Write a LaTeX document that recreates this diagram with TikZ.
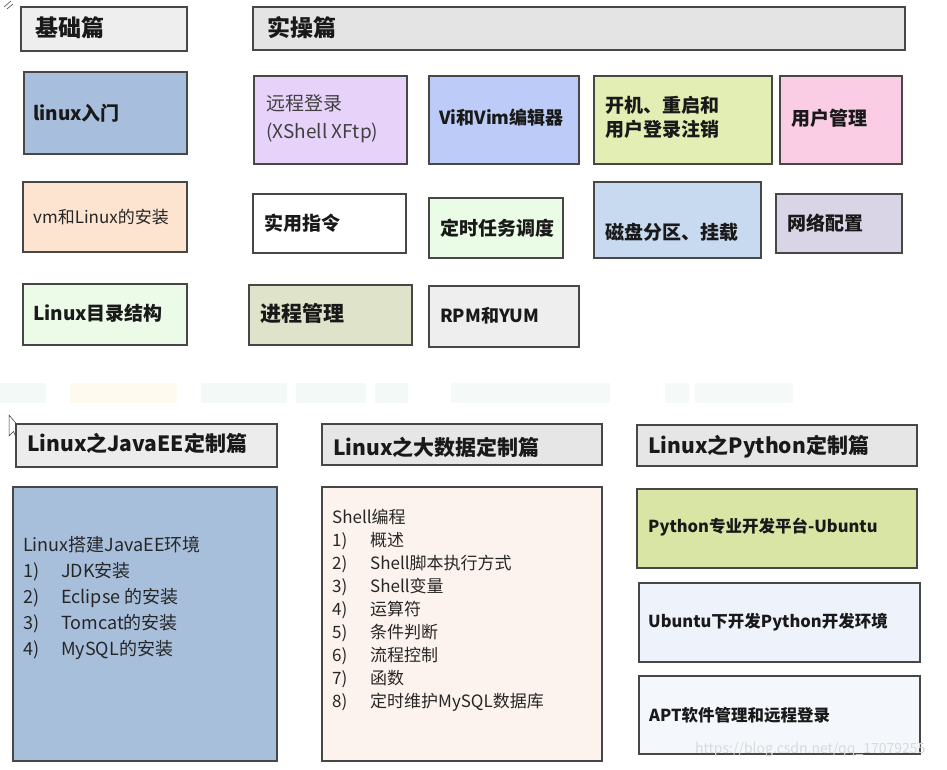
\documentclass[tikz,border=0pt]{standalone}
\usepackage{fontspec}
\setmainfont{Noto Sans CJK SC}
\begin{document}
\begin{tikzpicture}[x=1pt,y=-1pt,
  box/.style={draw=black!72, line width=1.1pt, rectangle, inner sep=0pt},
  txt/.style={anchor=west, inner sep=0pt, align=left, text=black!90, font=\bfseries\fontsize{19}{24}\selectfont},
  reg/.style={anchor=west, inner sep=0pt, align=left, text=black!80, font=\fontsize{17}{23}\selectfont},
  hdr/.style={anchor=west, inner sep=0pt, text=black!90, font=\bfseries\fontsize{21}{24}\selectfont},
  band/.style={draw=none, fill opacity=0.3}]
\useasboundingbox (0,0) rectangle (947,770);
\fill[white] (0,0) rectangle (947,770);
% faint background band
\fill[band, fill={rgb,255:red,214;green,236;blue,230}] (0,383) rectangle (46,403);
\fill[band, fill={rgb,255:red,252;green,240;blue,208}] (70,383) rectangle (177,403);
\fill[band, fill={rgb,255:red,214;green,236;blue,230}] (201,383) rectangle (287,403);
\fill[band, fill={rgb,255:red,214;green,236;blue,230}] (296,383) rectangle (366,403);
\fill[band, fill={rgb,255:red,214;green,236;blue,230}] (375,383) rectangle (408,403);
\fill[band, fill={rgb,255:red,222;green,238;blue,232}] (451,383) rectangle (610,403);
\fill[band, fill={rgb,255:red,222;green,238;blue,232}] (665,383) rectangle (689,403);
\fill[band, fill={rgb,255:red,222;green,238;blue,232}] (695,383) rectangle (793,403);
% cursors
\draw[black!80, line width=0.5pt, fill=white] (9,415) -- (9,436) -- (13.5,431.5) -- (16.5,438.5) -- (19,437.5) -- (16,430.5) -- (22,430.5) -- cycle;
\draw[black!70, line width=0.6pt] (4,7) -- (11,1) (7,9) -- (13,4);
% top section headers
\node[box, fill={rgb,255:red,238;green,238;blue,238}, minimum width=166pt, minimum height=44pt] (jichu) at (104,29) {};
\node[hdr, font=\bfseries\fontsize{23}{24}\selectfont] (jichut) at (35,28) {基础篇};
\node[box, fill={rgb,255:red,228;green,228;blue,228}, minimum width=652pt, minimum height=43pt] (shicao) at (579,28.5) {};
\node[hdr, font=\bfseries\fontsize{23}{24}\selectfont] (shicaot) at (267,28) {实操篇};
% basic column
\node[box, fill={rgb,255:red,168;green,190;blue,221}, minimum width=163pt, minimum height=82pt] (rumen) at (105.5,113) {};
\node[txt] (rument) at (33,113) {linux入门};
\node[box, fill={rgb,255:red,252;green,228;blue,208}, minimum width=164pt, minimum height=70pt] (vm) at (105,217) {};
\node[reg, text=black!85] (vmt) at (33,217) {vm和Linux的安装};
\node[box, fill={rgb,255:red,235;green,251;blue,232}, minimum width=164pt, minimum height=61pt] (mulu) at (105,314.5) {};
\node[txt] (mulut) at (33,313) {Linux目录结构};
% practice section
\node[box, fill={rgb,255:red,231;green,211;blue,250}, minimum width=153pt, minimum height=88pt] (yuancheng) at (330.5,120) {};
\node[reg, text=black!75, font=\fontsize{19}{28}\selectfont] (yuanchengt) at (266,119) {远程登录\\(XShell XFtp)};
\node[box, fill=white, minimum width=153pt, minimum height=59pt] (shiyong) at (329.5,223.5) {};
\node[txt] (shiyongt) at (264,223) {实用指令};
\node[box, fill={rgb,255:red,222;green,227;blue,202}, minimum width=163pt, minimum height=60pt] (jincheng) at (330.5,315) {};
\node[txt, font=\bfseries\fontsize{21}{24}\selectfont] (jinchengt) at (260,313) {进程管理};
\node[box, fill={rgb,255:red,188;green,203;blue,247}, minimum width=150pt, minimum height=88pt] (vi) at (504,120) {};
\node[txt, font=\bfseries\fontsize{18}{24}\selectfont] (vit) at (439,118) {Vi和Vim编辑器};
\node[box, fill={rgb,255:red,227;green,238;blue,181}, minimum width=178pt, minimum height=88pt] (kaiji) at (683,120) {};
\node[txt] (kaijit) at (605,117) {开机、重启和\\用户登录注销};
\node[box, fill={rgb,255:red,251;green,205;blue,229}, minimum width=122pt, minimum height=88pt] (yonghu) at (841,120) {};
\node[txt] (yonghut) at (791,118) {用户管理};
\node[box, fill={rgb,255:red,235;green,252;blue,230}, minimum width=134pt, minimum height=60pt] (dingshi) at (496,228) {};
\node[txt] (dingshit) at (440,228) {定时任务调度};
\node[box, fill={rgb,255:red,200;green,218;blue,240}, minimum width=167pt, minimum height=76pt] (cipan) at (677.5,220) {};
\node[txt] (cipant) at (605,232) {磁盘分区、挂载};
\node[box, fill={rgb,255:red,218;green,213;blue,230}, minimum width=126pt, minimum height=59pt] (wangluo) at (839,223.5) {};
\node[txt] (wangluot) at (787,223) {网络配置};
\node[box, fill={rgb,255:red,238;green,238;blue,238}, minimum width=150pt, minimum height=61pt] (rpm) at (504,316.5) {};
\node[txt, font=\bfseries\fontsize{18}{24}\selectfont] (rpmt) at (440,316) {RPM和YUM};
% bottom section
\node[box, fill={rgb,255:red,236;green,236;blue,236}, minimum width=261pt, minimum height=43pt] (javah) at (146.5,445.5) {};
\node[hdr] (javaht) at (27,443) {Linux之JavaEE定制篇};
\node[box, fill={rgb,255:red,168;green,191;blue,220}, minimum width=264pt, minimum height=274pt] (javab) at (145,624) {};
\node[reg, text=black!85, font=\fontsize{18}{26}\selectfont] (javabt) at (23,598) {Linux搭建JavaEE环境\\\makebox[38pt][l]{1)}JDK安装\\\makebox[38pt][l]{2)}Eclipse 的安装\\\makebox[38pt][l]{3)}Tomcat的安装\\\makebox[38pt][l]{4)}MySQL的安装};
\node[box, fill={rgb,255:red,230;green,230;blue,230}, minimum width=280pt, minimum height=41pt] (bigh) at (462,444.5) {};
\node[hdr] (bight) at (333,447) {Linux之大数据定制篇};
\node[box, fill={rgb,255:red,253;green,243;blue,238}, minimum width=280pt, minimum height=274pt] (bigb) at (462,624) {};
\node[reg, text=black!85, font=\fontsize{17}{23}\selectfont] (bigbt) at (332,610) {Shell编程\\\makebox[38pt][l]{1)}概述\\\makebox[38pt][l]{2)}Shell脚本执行方式\\\makebox[38pt][l]{3)}Shell变量\\\makebox[38pt][l]{4)}运算符\\\makebox[38pt][l]{5)}条件判断\\\makebox[38pt][l]{6)}流程控制\\\makebox[38pt][l]{7)}函数\\\makebox[38pt][l]{8)}定时维护MySQL数据库};
\node[box, fill={rgb,255:red,230;green,230;blue,230}, minimum width=280pt, minimum height=41pt] (pyh) at (777,445.5) {};
\node[hdr] (pyht) at (648,447) {Linux之Python定制篇};
\node[box, fill={rgb,255:red,216;green,229;blue,164}, minimum width=280pt, minimum height=79pt] (py1) at (777,528.5) {};
\node[txt, font=\bfseries\fontsize{16.5}{22}\selectfont] (py1t) at (648,527) {Python专业开发平台-Ubuntu};
\node[box, fill={rgb,255:red,238;green,242;blue,250}, minimum width=281pt, minimum height=79pt] (py2) at (779.5,622.5) {};
\node[txt, font=\bfseries\fontsize{16.5}{22}\selectfont] (py2t) at (648,622) {Ubuntu下开发Python开发环境};
\node[box, fill={rgb,255:red,244;green,247;blue,251}, minimum width=281pt, minimum height=78pt] (py3) at (779.5,715) {};
\node[txt, font=\bfseries\fontsize{16.5}{22}\selectfont] (py3t) at (649,715) {APT软件管理和远程登录};
\node[anchor=west, inner sep=0pt, text=black!15, font=\fontsize{14}{16}\selectfont] (wm) at (695,750) {https://blog.csdn.net/qq\_17079255};
\end{tikzpicture}
\end{document}
